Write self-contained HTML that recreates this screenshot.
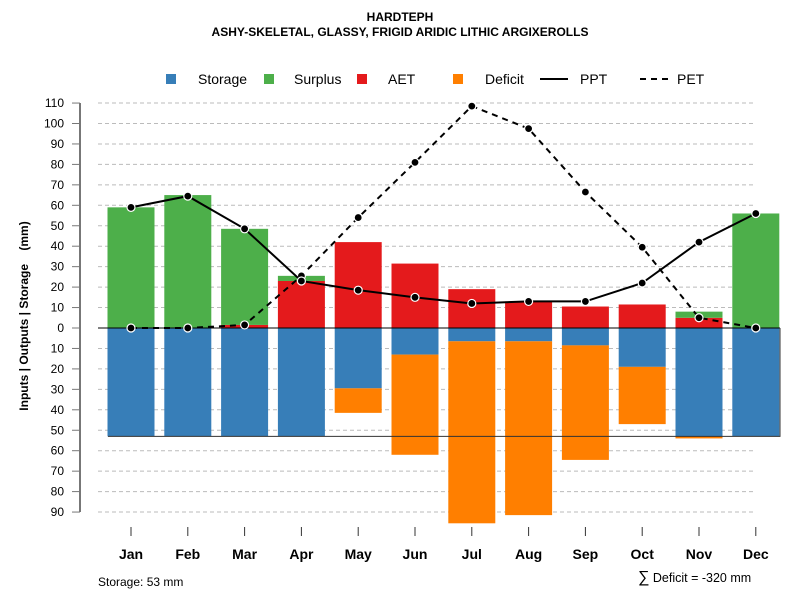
<!DOCTYPE html>
<html><head><meta charset="utf-8"><style>
body{margin:0;background:#fff;font-family:"Liberation Sans",sans-serif}
svg text{font-family:"Liberation Sans",sans-serif}
</style></head><body>
<svg id="c" width="800" height="600" xmlns="http://www.w3.org/2000/svg">
<text x="400" y="21" text-anchor="middle" font-size="12" font-weight="bold">HARDTEPH</text>
<text x="400" y="36" text-anchor="middle" font-size="12" font-weight="bold">ASHY-SKELETAL, GLASSY, FRIGID ARIDIC LITHIC ARGIXEROLLS</text>
<g>
<rect x="166" y="74" width="10" height="10" fill="#377eb8"/><text x="198" y="84" font-size="14">Storage</text>
<rect x="264" y="74" width="10" height="10" fill="#4daf4a"/><text x="294" y="84" font-size="14">Surplus</text>
<rect x="357" y="74" width="10" height="10" fill="#e41a1c"/><text x="388" y="84" font-size="14">AET</text>
<rect x="453" y="74" width="10" height="10" fill="#ff7f00"/><text x="485" y="84" font-size="14">Deficit</text>
<line x1="540" y1="79" x2="568" y2="79" stroke="#000" stroke-width="2"/><text x="580" y="84" font-size="14">PPT</text>
<line x1="640" y1="79" x2="668" y2="79" stroke="#000" stroke-width="2" stroke-dasharray="6,5"/><text x="677" y="84" font-size="14">PET</text>
</g>
<text transform="translate(28,316) rotate(-90)" text-anchor="middle" font-size="12" font-weight="bold">Inputs | Outputs | Storage &#160;&#160;&#160;(mm)</text>
<text x="98" y="586" font-size="12">Storage: 53 mm</text>
<text x="638" y="582" font-size="12.5"><tspan font-size="16">∑</tspan> Deficit = -320 mm</text>
<g id="grid"></g><g id="bars"></g><g id="lines"></g><g id="axes"></g>
</svg>
<script>
const months=["Jan","Feb","Mar","Apr","May","Jun","Jul","Aug","Sep","Oct","Nov","Dec"];
const storage=[53,53,53,53,29.5,13,6.5,6.5,8.5,19,53,53];
const deficit=[0,0,0,0,12,49,89,85,56,28,1,0];
const aet=[0,0,1.5,23,42,31.5,19,13,10.5,11.5,5,0];
const surplus=[59,65,47,2.5,0,0,0,0,0,0,3,56];
const ppt=[59,64.5,48.5,23,18.5,15,12,13,13,22,42,56];
const pet=[0,0,1.5,25.5,54,81,108.5,97.5,66.5,39.5,5,0];
const yTicks=[110,100,90,80,70,60,50,40,30,20,10,0,-10,-20,-30,-40,-50,-60,-70,-80,-90];
const maxStorage=53;
const NS="http://www.w3.org/2000/svg";
const y=v=>328-v*2.045;
const x=i=>131+i*56.8;
const bw=47;
function mk(t,a,p){const e=document.createElementNS(NS,t);for(const k in a)e.setAttribute(k,a[k]);document.getElementById(p).appendChild(e);return e;}
yTicks.forEach(v=>{
  if(v!==0){const g=mk('line',{x1:98,x2:756,y1:y(v),y2:y(v),stroke:'#bbb','stroke-dasharray':'4,3'},'grid');
  
  }
  const t=mk('line',{x1:72,x2:80,y1:y(v),y2:y(v),stroke:'#777'},'axes');
  
  
  const l=mk('text',{x:64,y:y(v)+4,'text-anchor':'end','font-size':12},'axes');l.textContent=Math.abs(v);
  
  
});
const ax=mk('line',{x1:80,x2:80,y1:y(110),y2:y(-90),stroke:'#777','stroke-width':2},'axes');


function bar(i,v0,v1,col,name){
  if(v1===v0)return;
  const r=mk('rect',{x:x(i)-bw/2,y:Math.min(y(v0),y(v1)),width:bw,height:Math.abs(y(v1)-y(v0)),fill:col},'bars');
  
  
}
months.forEach((m,i)=>{
  bar(i,0,-storage[i],'#377eb8','storage-bar-'+m.toLowerCase());
  bar(i,-storage[i],-storage[i]-deficit[i],'#ff7f00','deficit-bar-'+m.toLowerCase());
  bar(i,0,aet[i],'#e41a1c','aet-bar-'+m.toLowerCase());
  bar(i,aet[i],aet[i]+surplus[i],'#4daf4a','surplus-bar-'+m.toLowerCase());
  const t=mk('line',{x1:x(i),x2:x(i),y1:527,y2:536,stroke:'#333'},'axes');
  
  
  const l=mk('text',{x:x(i),y:559,'text-anchor':'middle','font-size':14,'font-weight':'bold'},'axes');l.textContent=m;
  
  
});
const zl=mk('line',{x1:98,x2:780,y1:y(0),y2:y(0),stroke:'#000'},'lines');


const sl=mk('polyline',{points:`108,${y(-maxStorage)} 780,${y(-maxStorage)} 780,${y(0)}`,fill:'none',stroke:'#333'},'lines');


function series(arr,dash,name){
  const p=mk('polyline',{points:arr.map((v,i)=>x(i)+','+y(v)).join(' '),fill:'none',stroke:'#000','stroke-width':2,'stroke-dasharray':dash},'lines');
  
  
  arr.forEach((v,i)=>{const c=mk('circle',{cx:x(i),cy:y(v),r:4,fill:'#000',stroke:'#fff','stroke-width':1.2},'lines');
  
  });
}
series(pet,'6,5','pet');
series(ppt,'none','ppt');
</script>
</body></html>
